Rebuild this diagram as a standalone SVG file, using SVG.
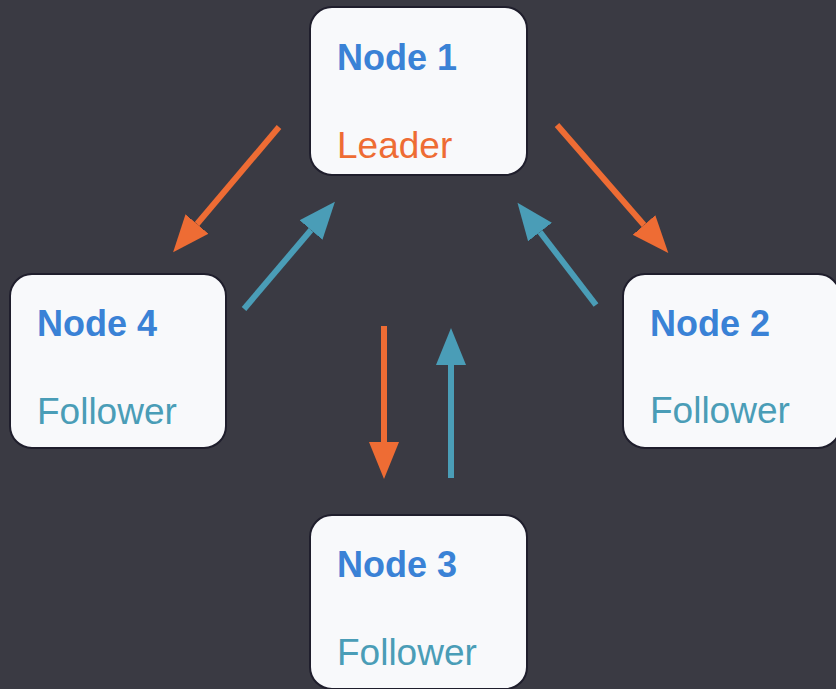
<svg xmlns="http://www.w3.org/2000/svg" width="836" height="689" viewBox="0 0 836 689">
  <style>
    .box { fill: #f8f9fb; stroke: #1f1e2c; stroke-width: 2; }
    .title { font-family: "Liberation Sans", Arial, sans-serif; font-size: 36px; font-weight: bold; fill: #3a82d6; }
    .role { font-family: "Liberation Sans", Arial, sans-serif; font-size: 37px; }
    .leader { fill: #ee6c34; }
    .follower { fill: #4a9db7; }
    .req { stroke: #ee6c34; stroke-width: 6; fill: none; }
    .ack { stroke: #4a9db7; stroke-width: 6; fill: none; }
  </style>
  <defs>
    <marker id="headO" markerUnits="userSpaceOnUse" markerWidth="40" markerHeight="32" viewBox="0 -16 40 32" refX="0" refY="0" orient="auto">
      <path d="M0,-15 L37,0 L0,15 Z" fill="#ee6c34"/>
    </marker>
    <marker id="headT" markerUnits="userSpaceOnUse" markerWidth="40" markerHeight="32" viewBox="0 -16 40 32" refX="0" refY="0" orient="auto">
      <path d="M0,-15 L37,0 L0,15 Z" fill="#4a9db7"/>
    </marker>
  </defs>
  <rect width="836" height="689" fill="#3a3a43"/>

  <g id="connectors">
    <line class="req" x1="279" y1="127" x2="197" y2="224" marker-end="url(#headO)"/>
    <line class="ack" x1="244" y1="309" x2="311" y2="230" marker-end="url(#headT)"/>
    <line class="req" x1="557" y1="125" x2="644" y2="225" marker-end="url(#headO)"/>
    <line class="ack" x1="596" y1="305" x2="540" y2="232" marker-end="url(#headT)"/>
    <line class="req" x1="384" y1="326" x2="384" y2="442" marker-end="url(#headO)"/>
    <line class="ack" x1="451" y1="478" x2="451" y2="365" marker-end="url(#headT)"/>
  </g>

  <g id="node1">
    <rect class="box" x="310" y="7" width="217" height="168" rx="22"/>
    <text class="title" x="337" y="70">Node 1</text>
    <text class="role leader" x="337" y="158">Leader</text>
  </g>
  <g id="node2">
    <rect class="box" x="623" y="274" width="217" height="174" rx="22"/>
    <text class="title" x="650" y="336">Node 2</text>
    <text class="role follower" x="650" y="423">Follower</text>
  </g>
  <g id="node3">
    <rect class="box" x="310" y="515" width="217" height="174" rx="22"/>
    <text class="title" x="337" y="577">Node 3</text>
    <text class="role follower" x="337" y="665">Follower</text>
  </g>
  <g id="node4">
    <rect class="box" x="10" y="274" width="216" height="174" rx="22"/>
    <text class="title" x="37" y="336">Node 4</text>
    <text class="role follower" x="37" y="424">Follower</text>
  </g>
</svg>
